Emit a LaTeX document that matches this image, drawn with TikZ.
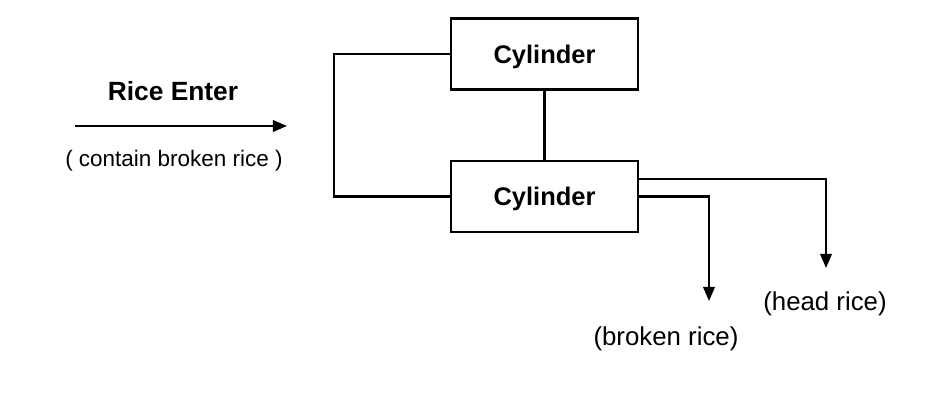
\documentclass[tikz,border=0pt]{standalone}
\usepackage{fontspec}
\setmainfont{Liberation Sans}
\usetikzlibrary{arrows.meta}
\usetikzlibrary{positioning}
\tikzstyle{base}=[x=0.02cm, y=-0.02cm, line width=1.3pt, inner sep=0pt, outer sep=0pt]
\tikzstyle{cyl}=[draw, minimum width=3.74cm, minimum height=1.42cm, text depth=0pt, font=\fontsize{14.5}{17}\selectfont\bfseries]
\tikzstyle{flow}=[-{Triangle[length=8pt,width=6.5pt]}]
\tikzstyle{lbl}=[font=\fontsize{14.7}{17}\selectfont]

\begin{document}
\begin{tikzpicture}[base]
    \useasboundingbox (0,0) rectangle (945,412);
        \node [cyl] (top) at (544.5,54) {Cylinder};
        \node [cyl] (bot) at (544.5,196.5) {Cylinder};
        \coordinate (feed) at (75,126);
        \coordinate (feedend) at (287,126);
        \node [font=\fontsize{15}{18}\selectfont\bfseries] (enter) at (173,91) {Rice Enter};
        \node [font=\fontsize{12.8}{15}\selectfont] (mix) at (174,161) {( contain broken rice )};
        \coordinate (headend) at (826,268);
        \coordinate (brokenend) at (709,301);
        \node [lbl] (head) at (825,304) {(head rice)};
        \node [lbl] (broken) at (666,339) {(broken rice)};
        \draw [flow] (feed) -- (feedend);
        \draw (top) -- (bot);
        \draw (top.west) -- ++(-117,0) |- (bot.west);
        \draw [flow] ([yshift=0.35cm]bot.east) -| (headend);
        \draw [flow] (bot.east) -| (brokenend);
    \end{tikzpicture}
\end{document}
